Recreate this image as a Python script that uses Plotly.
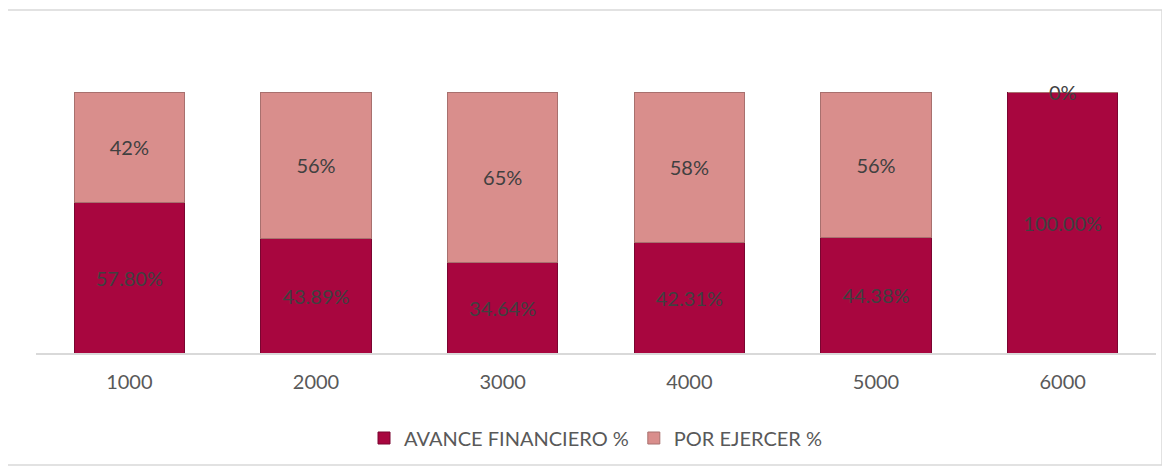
import plotly.graph_objects as go

categories = ["1000", "2000", "3000", "4000", "5000", "6000"]
avance = [57.80, 43.89, 34.64, 42.31, 44.38, 100.00]
por_ejercer = [42.20, 56.11, 65.36, 57.69, 55.62, 0.00]

avance_text = [f"{v:.2f}%" for v in avance]
por_text = [f"{v:.0f}%" if v > 0 else "" for v in por_ejercer]

# page body has an 8px margin: work in reference pixels and shift
OFF = 8
W, H = 1170 - OFF, 468 - OFF
PL, PR, PT, PB = 36, 1156, 92, 353  # plot area in reference pixels
L, R, T, B = PL - OFF, W - (PR - OFF), PT - OFF, H - (PB - OFF)
pw, ph = PR - PL, PB - PT

font_family = "Lato, 'Open Sans', sans-serif"
FS = 20

def px_x(x):
    return (x - PL) / pw

def px_y(y):
    return (PB - y) / ph

fig = go.Figure()
fig.add_trace(go.Bar(
    name="AVANCE FINANCIERO %", x=categories, y=avance,
    marker=dict(color="#A8063F", line=dict(color="#7A0530", width=1)),
    text=avance_text, textposition="inside", insidetextanchor="middle",
    textfont=dict(color="#404040", size=FS, family=font_family),
    constraintext="none",
))
fig.add_trace(go.Bar(
    name="POR EJERCER %", x=categories, y=por_ejercer,
    marker=dict(color="#D98E8C", line=dict(color="#A8706E", width=1)),
    text=por_text, textposition="inside", insidetextanchor="middle",
    textfont=dict(color="#404040", size=FS, family=font_family),
    constraintext="none",
))

annotations = []
for i, (a, p) in enumerate(zip(avance, por_ejercer)):
    if p == 0:
        annotations.append(dict(x=i, y=a + p, xref="x", yref="y", text=f"{p:.0f}%",
                                showarrow=False, xanchor="center", yanchor="middle",
                                font=dict(color="#404040", size=FS, family=font_family)))

fig.update_layout(
    barmode="stack",
    bargap=0.41,
    width=W, height=H,
    margin=dict(l=L, r=R, t=T, b=B, autoexpand=False),
    paper_bgcolor="white", plot_bgcolor="white",
    font=dict(family=font_family, color="#595959"),
    xaxis=dict(type="category", range=[-0.5, len(categories) - 0.5],
               showgrid=False, showline=True, linecolor="#D9D9D9", linewidth=1.5,
               ticks="outside", ticklen=10, tickcolor="rgba(0,0,0,0)",
               tickfont=dict(size=FS, color="#595959"), fixedrange=True),
    yaxis=dict(range=[0, 100], visible=False, showgrid=False, fixedrange=True),
    legend=dict(orientation="h", x=0.5, xanchor="center", y=px_y(438), yanchor="middle",
                font=dict(size=FS, color="#595959"), traceorder="normal",
                itemwidth=30),
    showlegend=True,
    annotations=annotations,
    shapes=[dict(type="rect", xref="paper", yref="paper",
                 x0=px_x(7), x1=px_x(1162), y0=px_y(465), y1=px_y(10),
                 line=dict(color="#D9D9D9", width=1.5), fillcolor="rgba(0,0,0,0)",
                 layer="below")],
)

fig.write_html("out.html")
